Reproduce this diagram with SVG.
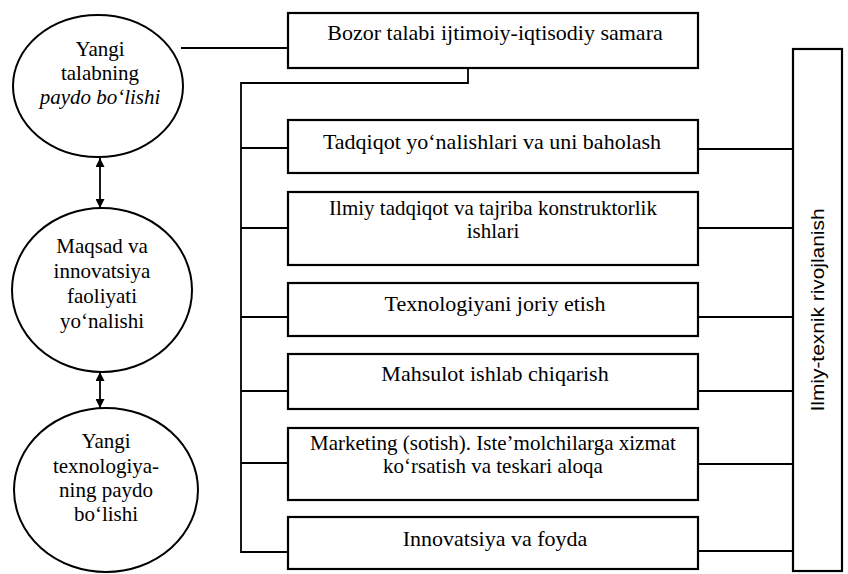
<svg xmlns="http://www.w3.org/2000/svg" width="848" height="574" viewBox="0 0 848 574">
<style>
.box{fill:#fff;stroke:#000;stroke-width:2.2}
.ell{fill:#fff;stroke:#000;stroke-width:2}
.ln{fill:none;stroke:#000;stroke-width:1.8}
.t{font-family:"Liberation Serif",Tinos,"Times New Roman",Times,"Noto Serif","DejaVu Serif",serif;font-size:21px;fill:#000;text-anchor:middle}
.tb{font-size:22px}
.it{font-style:italic}
.v{font-family:"Liberation Sans",Arial,"DejaVu Sans",sans-serif;font-size:19px;fill:#000;text-anchor:middle}
</style>
<defs>
<marker id="ah" viewBox="0 0 10 10" refX="10" refY="5" markerWidth="10" markerHeight="9" orient="auto-start-reverse" markerUnits="userSpaceOnUse">
<path d="M0,0 L10,5 L0,10 z" fill="#000"/>
</marker>
</defs>
<rect width="848" height="574" fill="#fff"/>
<g id="connectors">
<line class="ln" x1="181" y1="48" x2="288" y2="48"/>
<polyline class="ln" points="468,68 468,83 241,83 241,552 288,552"/>
<line class="ln" x1="241" y1="148" x2="288" y2="148"/>
<line class="ln" x1="241" y1="228" x2="288" y2="228"/>
<line class="ln" x1="241" y1="317" x2="288" y2="317"/>
<line class="ln" x1="241" y1="391" x2="288" y2="391"/>
<line class="ln" x1="241" y1="463" x2="288" y2="463"/>
<line class="ln" x1="698" y1="149" x2="793" y2="149"/>
<line class="ln" x1="698" y1="228" x2="793" y2="228"/>
<line class="ln" x1="698" y1="317" x2="793" y2="317"/>
<line class="ln" x1="698" y1="391" x2="793" y2="391"/>
<line class="ln" x1="698" y1="464" x2="793" y2="464"/>
<line class="ln" x1="698" y1="551" x2="793" y2="551"/>
<line class="ln" x1="100" y1="158" x2="100" y2="208" marker-start="url(#ah)" marker-end="url(#ah)"/>
<line class="ln" x1="100" y1="372" x2="100" y2="408" marker-start="url(#ah)" marker-end="url(#ah)"/>
</g>
<g id="c1">
<ellipse class="ell" cx="98" cy="86" rx="85" ry="71"/>
<text class="t" x="100" y="56">Yangi</text>
<text class="t" x="100" y="80">talabning</text>
<text class="t it" x="100" y="104">paydo bo‘lishi</text>
</g>
<g id="c2">
<ellipse class="ell" cx="102" cy="290" rx="90" ry="82"/>
<text class="t" x="102" y="253">Maqsad va</text>
<text class="t" x="102" y="278">innovatsiya</text>
<text class="t" x="102" y="303">faoliyati</text>
<text class="t" x="102" y="328">yo‘nalishi</text>
</g>
<g id="c3">
<ellipse class="ell" cx="106" cy="490" rx="92" ry="82"/>
<text class="t" x="106" y="448">Yangi</text>
<text class="t" x="106" y="473">texnologiya-</text>
<text class="t" x="106" y="497">ning paydo</text>
<text class="t" x="106" y="521">bo‘lishi</text>
</g>
<g id="b1">
<rect class="box" x="288" y="13" width="410" height="55"/>
<text class="t tb" x="495" y="40">Bozor talabi ijtimoiy-iqtisodiy samara</text>
</g>
<g id="b2">
<rect class="box" x="288" y="120" width="410" height="53"/>
<text class="t tb" x="492" y="149">Tadqiqot yo‘nalishlari va uni baholash</text>
</g>
<g id="b3">
<rect class="box" x="288" y="192" width="410" height="73"/>
<text class="t" x="493" y="215">Ilmiy tadqiqot va tajriba konstruktorlik</text>
<text class="t" x="493" y="238">ishlari</text>
</g>
<g id="b4">
<rect class="box" x="288" y="283" width="410" height="53"/>
<text class="t tb" x="495" y="311">Texnologiyani joriy etish</text>
</g>
<g id="b5">
<rect class="box" x="288" y="354" width="410" height="55"/>
<text class="t tb" x="495" y="381">Mahsulot ishlab chiqarish</text>
</g>
<g id="b6">
<rect class="box" x="288" y="428" width="410" height="72"/>
<text class="t" x="493" y="450">Marketing (sotish). Iste’molchilarga xizmat</text>
<text class="t" x="493" y="473">ko‘rsatish va teskari aloqa</text>
</g>
<g id="b7">
<rect class="box" x="288" y="517" width="410" height="52"/>
<text class="t tb" x="495" y="546">Innovatsiya va foyda</text>
</g>
<g id="bv">
<rect class="box" x="793" y="49" width="49" height="522"/>
<text class="v" transform="translate(824,310) rotate(-90)" textLength="203" lengthAdjust="spacingAndGlyphs">Ilmiy-texnik rivojlanish</text>
</g>
</svg>
